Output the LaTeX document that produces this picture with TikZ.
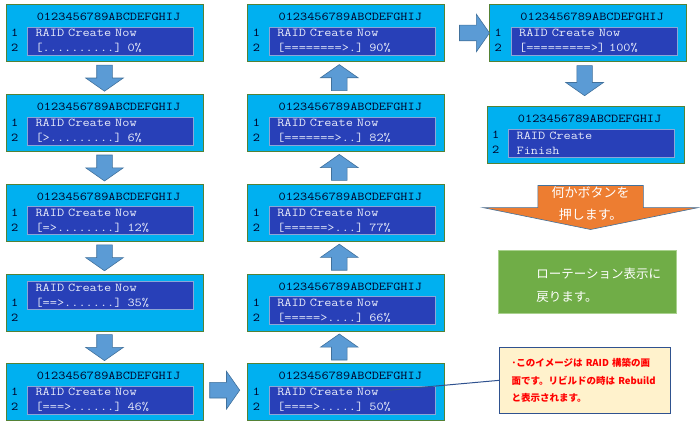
\documentclass[tikz,border=0pt]{standalone}
\usepackage{fontspec}
\setmonofont{lmmono12-regular.otf}[FakeStretch=1.16]
\newfontfamily\jpfont{Noto Sans CJK JP}
\usepackage{tikz}
\usetikzlibrary{arrows.meta,positioning,shapes.arrows,calc}

\definecolor{lcdcyan}{RGB}{0,176,240}
\definecolor{lcdedge}{RGB}{84,130,53}
\definecolor{scrblue}{RGB}{40,64,184}
\definecolor{scredge}{RGB}{140,165,215}
\definecolor{scrtext}{RGB}{232,236,250}
\definecolor{arrblue}{RGB}{91,155,213}
\definecolor{arredge}{RGB}{65,113,156}
\definecolor{pressorange}{RGB}{237,125,49}
\definecolor{rotgreen}{RGB}{112,173,71}
\definecolor{rotedge}{RGB}{169,209,142}
\definecolor{notefill}{RGB}{255,242,204}
\definecolor{noteedge}{RGB}{47,82,143}

\begin{document}
\begin{tikzpicture}[
node distance=32pt and 44pt,
lcdnum/.style={anchor=center, inner sep=0pt, font=\ttfamily\fontsize{12}{15}\selectfont, text=black!85!blue},
lcdbare/.style={draw=lcdedge, line width=0.8pt, fill=lcdcyan, minimum width=197pt, minimum height=57pt, inner sep=0pt,
  label={[lcdnum, xshift=9pt]west:1}, label={[lcdnum, xshift=9pt, yshift=-15pt]west:2}},
lcd/.style={lcdbare, label={[lcdnum, xshift=4pt, yshift=-13pt]north:0123456789ABCDEFGHIJ}},
lcdscr/.style={draw=scredge, line width=0.5pt, fill=scrblue, text=scrtext, text width=150pt, inner xsep=8pt, inner ysep=0pt,
  minimum height=28pt, align=left, font=\ttfamily\fontsize{12}{15}\selectfont},
blkarr/.style={single arrow, draw=arredge, line width=0.6pt, fill=arrblue, inner xsep=0pt, inner ysep=7.5pt,
  single arrow head extend=11pt, single arrow tip angle=110, minimum height=26pt, anchor=tail},
dnarr/.style={blkarr, rotate=-90},
uparr/.style={blkarr, rotate=90},
rtarr/.style={blkarr, minimum height=30pt},
pressarr/.style={single arrow, rotate=-90, draw=arredge, line width=0.6pt, fill=pressorange, inner xsep=0pt, inner ysep=52.5pt,
  single arrow head extend=55pt, single arrow tip angle=157, minimum height=44pt, anchor=tail},
presstxt/.style={text=white, align=center, inner sep=0pt, font=\jpfont\fontsize{13}{22}\selectfont},
rotbox/.style={draw=rotedge, line width=0.8pt, fill=rotgreen, minimum width=178pt, minimum height=63pt},
rottxt/.style={text=white, align=left, inner sep=0pt, font=\jpfont\fontsize{12.5}{23}\selectfont},
notebox/.style={draw=noteedge, line width=1.5pt, fill=notefill, text=red, align=left, text width=147pt, inner xsep=12pt,
  minimum height=66pt, font=\jpfont\bfseries\fontsize{9.5}{17.5}\selectfont},
noteline/.style={draw=noteedge, line width=1pt}
]
\useasboundingbox (0,0) rectangle (700pt,-422pt);

% panels
\node[lcd] (p0) at (104.5pt,-33pt) {};
\node[lcd, below=of p0] (p6) {};
\node[lcd, below=of p6] (p12) {};
\node[lcdbare, below=of p12] (p35) {};
\node[lcd, below=of p35] (p46) {};
\node[lcd, right=of p46] (p50) {};
\node[lcd, above=of p50] (p66) {};
\node[lcd, above=of p66] (p77) {};
\node[lcd, above=of p77] (p82) {};
\node[lcd, above=of p82] (p90) {};
\node[lcd, right=of p90] (p100) {};
\node[lcd, below=44pt of p100, xshift=-2.5pt] (pfin) {};

% screens
\node[lcdscr] (s0) at ([xshift=6pt,yshift=-8pt]p0.center) {RAID Create Now\\{}[..........] 0\%};
\node[lcdscr] (s6) at ([xshift=6pt,yshift=-8pt]p6.center) {RAID Create Now\\{}[>.........] 6\%};
\node[lcdscr] (s12) at ([xshift=6pt,yshift=-8pt]p12.center) {RAID Create Now\\{}[=>........] 12\%};
\node[lcdscr] (s35) at ([xshift=6pt,yshift=7pt]p35.center) {RAID Create Now\\{}[==>.......] 35\%};
\node[lcdscr] (s46) at ([xshift=6pt,yshift=-8pt]p46.center) {RAID Create Now\\{}[===>......] 46\%};
\node[lcdscr] (s50) at ([xshift=6pt,yshift=-8pt]p50.center) {RAID Create Now\\{}[====>.....] 50\%};
\node[lcdscr] (s66) at ([xshift=6pt,yshift=-8pt]p66.center) {RAID Create Now\\{}[=====>....] 66\%};
\node[lcdscr] (s77) at ([xshift=6pt,yshift=-8pt]p77.center) {RAID Create Now\\{}[======>...] 77\%};
\node[lcdscr] (s82) at ([xshift=6pt,yshift=-8pt]p82.center) {RAID Create Now\\{}[=======>..] 82\%};
\node[lcdscr] (s90) at ([xshift=6pt,yshift=-8pt]p90.center) {RAID Create Now\\{}[========>.] 90\%};
\node[lcdscr] (s100) at ([xshift=6pt,yshift=-8pt]p100.center) {RAID Create Now\\{}[=========>] 100\%};
\node[lcdscr] (sfin) at ([xshift=6pt,yshift=-8pt]pfin.center) {RAID Create\\Finish};

% block arrows
\node[dnarr] (a1) at ([yshift=-3pt]p0.south) {};
\node[dnarr] (a2) at ([yshift=-3pt]p6.south) {};
\node[dnarr] (a3) at ([yshift=-3pt]p12.south) {};
\node[dnarr] (a4) at ([yshift=-3pt]p35.south) {};
\node[rtarr] (a5) at ([xshift=6pt,yshift=2pt]p46.east) {};
\node[uparr] (a6) at ([xshift=-7pt,yshift=3pt]p50.north) {};
\node[uparr] (a7) at ([xshift=-7pt,yshift=3pt]p66.north) {};
\node[uparr] (a8) at ([xshift=-7pt,yshift=3pt]p77.north) {};
\node[uparr] (a9) at ([xshift=-7pt,yshift=3pt]p82.north) {};
\node[rtarr] (a10) at ([xshift=14pt]p90.east) {};
\node[dnarr, minimum height=30pt] (a11) at ([xshift=-3.5pt,yshift=-3.5pt]p100.south) {};

% after finish
\node[pressarr] (press) at ([xshift=5pt,yshift=-21.5pt]pfin.south) {};
\node[presstxt] (presstxt) at ([yshift=-18pt]press.tail) {何かボタンを\\押します。};
\node[rotbox, anchor=north] (rot) at ([xshift=-3pt,yshift=-20pt]press.tip) {};
\node[rottxt, anchor=west] (rottxt) at ([xshift=38pt,yshift=-4pt]rot.west) {ローテーション表示に\\戻ります。};
\node[notebox, below=33pt of rot, xshift=-2.5pt] (note) {･このイメージは~\mbox{RAID}~構築の画\\面です。リビルドの時は~\mbox{Rebuild}\\と表示されます。};
\coordinate (cue) at ([xshift=-46pt,yshift=10pt]s50.east);
\draw[noteline] (note.west) -- (cue);
\end{tikzpicture}
\end{document}
